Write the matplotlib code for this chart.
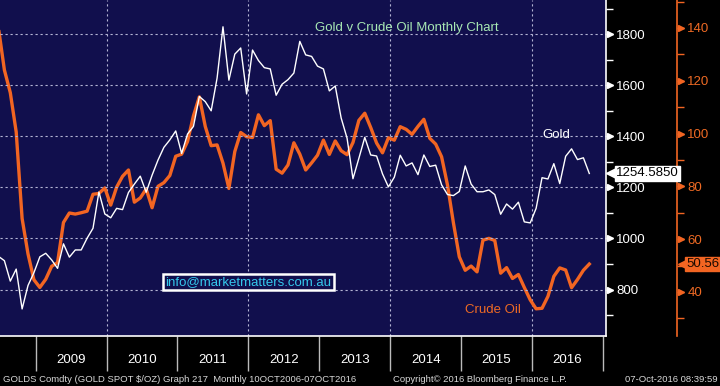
import numpy as np
import pandas as pd
import matplotlib
matplotlib.use("Agg")
import matplotlib.pyplot as plt
import matplotlib.transforms as mtransforms
from matplotlib.ticker import MultipleLocator, FixedLocator

# ---------------- data (monthly, Jun 2008 - Oct 2016) ----------------
start_month = "2008-06-01"
gold = [930, 913, 833, 880, 724, 816, 866,
        928, 942, 916, 883, 979, 927, 955, 955, 1001, 1040, 1182, 1096,
        1081, 1118, 1113, 1180, 1213, 1244, 1181, 1248, 1307, 1357, 1386, 1421,
        1333, 1409, 1439, 1556, 1536, 1500, 1628, 1829, 1620, 1722, 1746, 1566,
        1738, 1697, 1669, 1664, 1561, 1604, 1622, 1648, 1772, 1719, 1713, 1675,
        1664, 1578, 1597, 1472, 1393, 1234, 1314, 1396, 1327, 1323, 1253, 1202,
        1240, 1326, 1284, 1296, 1250, 1327, 1282, 1287, 1210, 1172, 1168, 1184,
        1284, 1213, 1183, 1183, 1190, 1172, 1095, 1135, 1115, 1142, 1065, 1061,
        1118, 1238, 1233, 1293, 1215, 1322, 1351, 1309, 1316, 1254.585]
oil = [140.0, 124.1, 115.5, 100.6, 67.8, 54.4, 44.6,
       41.7, 44.8, 49.7, 51.1, 66.3, 69.9, 69.5, 70.0, 70.6, 77.0, 77.3, 79.4,
       72.9, 79.7, 83.8, 86.2, 74.0, 75.6, 79.0, 71.9, 80.0, 81.4, 84.1, 91.4,
       92.2, 97.0, 106.7, 113.9, 102.7, 95.4, 95.7, 88.8, 79.2, 93.2, 100.4, 98.8,
       98.5, 107.1, 103.0, 104.9, 86.5, 85.0, 88.1, 96.5, 92.2, 86.2, 88.9, 91.8,
       97.5, 92.1, 97.2, 93.5, 92.0, 96.6, 105.0, 107.7, 102.3, 96.4, 92.7, 98.4,
       97.5, 102.6, 101.6, 99.7, 102.7, 105.4, 98.2, 96.0, 91.2, 80.5, 66.2, 53.3,
       48.2, 49.8, 47.6, 59.6, 60.3, 59.5, 47.1, 49.2, 45.1, 46.6, 41.7, 37.0,
       33.6, 33.8, 38.3, 45.9, 49.1, 48.3, 41.6, 44.7, 48.2, 50.56]
years = [2009, 2010, 2011, 2012, 2013, 2014, 2015, 2016]
gold_ticks = [800, 1000, 1200, 1400, 1600, 1800]
oil_ticks = [40, 60, 80, 100, 120, 140]
title = "Gold v Crude Oil Monthly Chart"
footer_left = "GOLDS Comdty (GOLD SPOT $/OZ) Graph 217  Monthly 10OCT2006-07OCT2016"
footer_mid = "Copyright\u00a9 2016 Bloomberg Finance L.P."
footer_right = "07-Oct-2016 08:39:59"
email = "info@marketmatters.com.au"

months = pd.date_range(start_month, periods=len(gold), freq="MS")
t = np.asarray(months.year + (months.month - 0.3) / 12.0, dtype=float)

# ---------------- style ----------------
NAVY = "#110f4d"
ORANGE = "#f26522"
ORANGE_TXT = "#ee6a24"
GRID = "#b4b4d4"
plt.rcParams["font.family"] = ["Liberation Sans", "DejaVu Sans"]

W, H = 720, 386
OIL_SPINE = 677 / 606
fig = plt.figure(figsize=(7.2, 3.86), dpi=100, facecolor="black")
ax2 = fig.add_axes([0, 50 / H, 606 / W, 336 / H])   # oil (drawn underneath)
ax = ax2.twinx()                                      # gold (on top)
ax2.set_facecolor(NAVY)
ax.patch.set_visible(False)

ax.set_xlim(2008.4965, 2017.044)
ax.set_ylim(618, 1934)
ax2.set_ylim(23.3, 150.6)

# ---------------- oil series / axis ----------------
ax2.plot(t, oil, color=ORANGE, lw=2.4, zorder=3)
for s in ["left", "top", "bottom"]:
    ax2.spines[s].set_visible(False)
ax2.yaxis.tick_right()
ax2.spines["right"].set_position(("axes", OIL_SPINE))
ax2.spines["right"].set_color(ORANGE)
ax2.spines["right"].set_linewidth(1.2)
ax2.yaxis.set_major_locator(FixedLocator(oil_ticks))
ax2.yaxis.set_minor_locator(MultipleLocator(10))
ax2.tick_params(axis="y", which="major", direction="out", length=5, width=1,
                colors=ORANGE, labelsize=9.5, pad=2.5, left=False, right=True)
ax2.tick_params(axis="y", which="minor", direction="out", length=5, width=1,
                colors=ORANGE, left=False, right=True)
for lab in ax2.get_yticklabels():
    lab.set_color(ORANGE_TXT)
ax2.xaxis.set_visible(False)

# vertical grid lines every other year
for yv in [2010, 2012, 2014, 2016]:
    ax2.axvline(yv, color=GRID, ls=(0, (2, 2.5)), lw=0.8, zorder=1)

# ---------------- gold series / axis ----------------
ax.plot(t, gold, color="white", lw=1.0, zorder=4)
for s in ["left", "top"]:
    ax.spines[s].set_visible(False)
ax.spines["right"].set_color("white")
ax.spines["bottom"].set_visible(True)
ax.spines["bottom"].set_color("white")
ax.spines["right"].set_linewidth(1.2)
ax.spines["bottom"].set_linewidth(1.2)
ax.yaxis.tick_right()
ax.yaxis.set_major_locator(FixedLocator(gold_ticks))
ax.yaxis.set_minor_locator(MultipleLocator(100))
ax.tick_params(axis="y", which="major", direction="out", length=5, width=1,
               colors="white", labelsize=9.5, pad=2.5, left=False, right=True)
ax.tick_params(axis="y", which="minor", direction="out", length=5, width=1,
               colors="white", left=False, right=True)
ax.grid(axis="y", which="major", color=GRID, ls=(0, (2, 2.5)), lw=0.8)

# x-axis: separators at year starts, labels centred in each year
ax.xaxis.set_visible(True)
ax.xaxis.tick_bottom()
ax.set_xticks(years + [2017])
ax.set_xticklabels([""] * (len(years) + 1))
ax.set_xticks([y + 0.5 for y in years], minor=True)
ax.set_xticklabels([str(y) for y in years], minor=True)
ax.tick_params(axis="x", which="major", direction="out", length=25, width=1,
               colors="#bbbbbb", bottom=True, top=False)
ax.tick_params(axis="x", which="minor", length=0, labelsize=9.5,
               labelcolor="white", pad=13, bottom=True, labelbottom=True,
               top=False)
ax.set_xlim(2008.4965, 2017.044)

# arrows on major ticks
blend_g = mtransforms.blended_transform_factory(ax.transAxes, ax.transData)
blend_o = mtransforms.blended_transform_factory(ax2.transAxes, ax2.transData)
ax.plot([1.0] * len(gold_ticks), gold_ticks, ls="none", marker=">", ms=4.5,
        color="white", clip_on=False, zorder=6,
        transform=mtransforms.offset_copy(blend_g, fig=fig, x=4, y=0, units="dots"))
ax2.plot([OIL_SPINE] * len(oil_ticks), oil_ticks, ls="none", marker=">", ms=4.5,
         color=ORANGE, clip_on=False, zorder=6,
         transform=mtransforms.offset_copy(blend_o, fig=fig, x=4, y=0, units="dots"))

# ---------------- last-value tags ----------------
last_g = gold[-1]
last_o = oil[-1]
ax.plot([1.0], [last_g], ls="none", marker="<", ms=8, color="white",
        transform=mtransforms.offset_copy(blend_g, fig=fig, x=6, y=0, units="dots"),
        clip_on=False, zorder=7)
ax.text(1.0, last_g, f"{last_g:.4f}",
        transform=mtransforms.offset_copy(blend_g, fig=fig, x=10, y=0, units="dots"),
        ha="left", va="center", fontsize=9.5, color="black", zorder=8,
        bbox=dict(boxstyle="square,pad=0.1", fc="white", ec="white"))
ax2.plot([OIL_SPINE], [last_o], ls="none", marker="<", ms=8, color=ORANGE,
         transform=mtransforms.offset_copy(blend_o, fig=fig, x=7, y=0, units="dots"),
         clip_on=False, zorder=7)
ax2.text(OIL_SPINE, last_o, f"{last_o:.2f}",
         transform=mtransforms.offset_copy(blend_o, fig=fig, x=9, y=0, units="dots"),
         ha="left", va="center", fontsize=9.5, color="#1a0a00", zorder=8,
         bbox=dict(boxstyle="square,pad=0.1", fc=ORANGE, ec=ORANGE))

# ---------------- annotations ----------------
ax.text(0.672, 0.917, title, transform=ax.transAxes, ha="center", va="center",
        fontsize=9.5, color="#a8e8b4", zorder=9)
ax.text(2016.34, 1405, "Gold", ha="center", va="center", fontsize=9.5,
        color="white", zorder=9)
ax.text(2015.45, 720, "Crude Oil", ha="center", va="center", fontsize=9.5,
        color=ORANGE_TXT, zorder=9)
ax.text(248.5 / 606, 1 - 282 / 336, email, transform=ax.transAxes, ha="center",
        va="center", fontsize=9.5, color="#35c8ec", zorder=9,
        bbox=dict(boxstyle="square,pad=0.18", fc=NAVY, ec="white", lw=1.8))

# ---------------- footer ----------------
fig.text(3 / W, 1 - 379 / H, footer_left, ha="left", va="center", fontsize=6.8,
         color="#d8d8d8")
fig.text(480 / W, 1 - 379 / H, footer_mid, ha="center", va="center", fontsize=6.8,
         color="#d8d8d8")
fig.text(718 / W, 1 - 379 / H, footer_right, ha="right", va="center", fontsize=6.8,
         color="#d8d8d8")

fig.savefig("out.png", dpi=100, facecolor="black")
